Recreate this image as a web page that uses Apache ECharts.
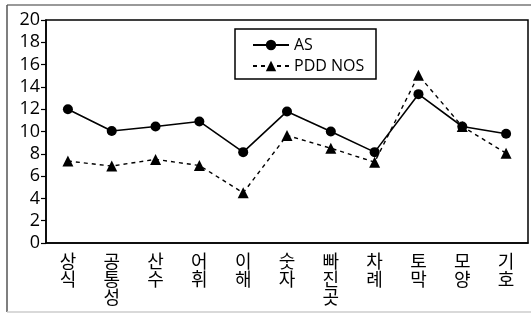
<!DOCTYPE html>
<html><head><meta charset="utf-8">
<script src="https://cdn.jsdelivr.net/npm/echarts@6/dist/echarts.min.js"></script>
<style>html,body{margin:0;padding:0;background:#fff}#c{width:531px;height:314px}</style>
</head><body><div id="c"></div>
<script>
var categories = ['상식','공통성','산수','어휘','이해','숫자','빠진곳','차례','토막','모양','기호'];
var asValues = [12.0, 10.05, 10.45, 10.9, 8.15, 11.8, 10.0, 8.15, 13.35, 10.45, 9.8];
var pddValues = [7.35, 6.9, 7.5, 6.95, 4.5, 9.65, 8.5, 7.25, 15.05, 10.45, 8.05];
var yTicks = [0, 2, 4, 6, 8, 10, 12, 14, 16, 18, 20];

var chart = echarts.init(document.getElementById('c'), null, {renderer:'canvas'});
var font = '"Open Sans", "DejaVu Sans", "Noto Sans CJK KR", sans-serif';
chart.setOption({
  animation: false,
  backgroundColor: '#fff',
  textStyle: {fontFamily: font, color: '#000'},
  graphic: [
    {type:'line', shape:{x1:7, y1:5, x2:531, y2:5}, style:{stroke:'#777', lineWidth:1.5}},
    {type:'line', shape:{x1:7, y1:5, x2:7, y2:312}, style:{stroke:'#555', lineWidth:1.5}},
    {type:'line', shape:{x1:7, y1:312, x2:531, y2:312}, style:{stroke:'#ccc', lineWidth:1.5}},
    {type:'rect', shape:{x:235, y:29, width:141, height:50}, style:{fill:'#fff', stroke:'#000', lineWidth:1.5}, z:5}
  ],
  grid: {left:46, right:3, top:20, bottom:71, show:true, borderColor:'#000', borderWidth:1.5},
  legend: {
    data: ['AS','PDD NOS'], orient:'vertical', left:247, top:32, itemGap:5,
    itemWidth:36, itemHeight:13, z:10,
    textStyle: {fontFamily: font, fontSize:16, color:'#000'}
  },
  xAxis: {
    type:'category', data: categories, boundaryGap:true,
    axisLine:{lineStyle:{color:'#000', width:1.5}},
    axisTick:{inside:true, length:6, interval:0, lineStyle:{color:'#000', width:1.2}},
    axisLabel:{interval:0, margin:9, fontSize:18, lineHeight:18, color:'#000',
      fontFamily:'"Noto Sans CJK KR", sans-serif',
      formatter:function(v){return v.split('').join('\n');}}
  },
  yAxis: {
    type:'value', min:0, max:20, interval:2,
    axisLine:{show:true, lineStyle:{color:'#000', width:1.5}},
    axisTick:{show:true, inside:false, length:5, lineStyle:{color:'#000', width:1.2}},
    splitLine:{show:false},
    axisLabel:{fontSize:18, color:'#000', margin:6, fontFamily:font,
      formatter:function(v){return yTicks.indexOf(v) >= 0 ? String(v) : '';}}
  },
  series: [
    {name:'AS', type:'line', data: asValues, symbol:'circle', symbolSize:10,
      itemStyle:{color:'#000'}, lineStyle:{color:'#000', width:1.6, type:'solid'}, z:3},
    {name:'PDD NOS', type:'line', data: pddValues, symbol:'triangle', symbolSize:11,
      itemStyle:{color:'#000'}, lineStyle:{color:'#000', width:1.4, type:[4,4]}, z:2}
  ]
});
</script></body></html>
